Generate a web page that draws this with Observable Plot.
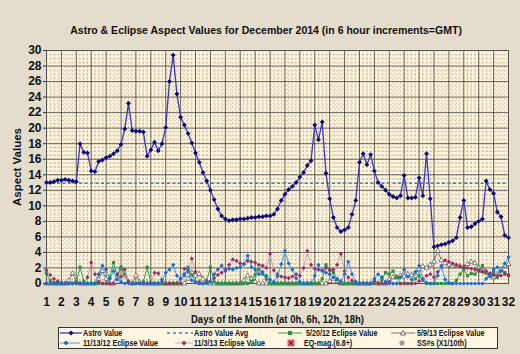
<!DOCTYPE html>
<html><head><meta charset="utf-8">
<script src="https://cdn.jsdelivr.net/npm/d3@7"></script>
<script src="https://cdn.jsdelivr.net/npm/@observablehq/plot@0.6"></script>
<style>
html,body{margin:0;padding:0;}
body{width:520px;height:354px;background:#E4DCCC;position:relative;overflow:hidden;font-family:"Liberation Sans",Arial,sans-serif;}
#title{position:absolute;left:0;top:22px;width:533px;text-align:center;line-height:14px;}
#title span{display:inline-block;font:bold 11.5px "Liberation Sans",Arial,sans-serif;color:#111;transform:scaleX(0.915);transform-origin:center;white-space:nowrap;}
#chart{position:absolute;left:0;top:40px;}
#legend{position:absolute;left:58px;top:327px;width:438px;height:20px;background:#FFF6E2;border:1px solid #333;}
.li{position:absolute;font:bold 8.5px "Liberation Sans",Arial,sans-serif;white-space:nowrap;line-height:8px;height:8px;color:#111;transform:scaleX(0.84);transform-origin:left center;}
.sw{position:absolute;line-height:0;}
</style></head>
<body>
<div id="title"><span></span></div>
<div id="chart"></div>
<div id="legend"></div>
<script>
const chartTitle = "Astro & Eclipse Aspect Values for December 2014 (in 6 hour increments=GMT)";
const xLabel = "Days of the Month (at 0h, 6h, 12h, 18h)";
const yLabel = "Aspect Values";
const dayTicks = [1,2,3,4,5,6,7,8,9,10,11,12,13,14,15,16,17,18,19,20,21,22,23,24,25,26,27,28,29,30,31,32];
const yTicks = [0,2,4,6,8,10,12,14,16,18,20,22,24,26,28,30];
const seriesNames = ["Astro Value","Astro Value Avg","5/20/12 Eclipse Value","5/9/13 Eclipse Value","11/13/12 Eclipse Value","11/3/13 Eclipse Value","EQ-mag.(6.8+)","SS#s (X1/10th)"];

const astroAvg = 12.9;
const astroValues = [13.0,13.0,13.1,13.3,13.3,13.4,13.3,13.2,13.1,18.0,
 16.9,16.8,14.5,14.4,15.7,15.9,16.2,16.4,16.7,17.1,
 17.9,19.9,23.2,19.7,19.6,19.6,19.5,16.4,17.2,18.2,
 17.1,18.0,20.1,26.0,29.4,24.4,21.4,20.4,19.3,18.1,
 16.8,15.6,14.3,13.2,12.0,10.8,9.6,8.7,8.3,8.1,
 8.2,8.2,8.3,8.3,8.4,8.5,8.5,8.6,8.6,8.7,
 8.7,8.9,9.6,10.7,11.5,12.1,12.5,13.0,13.7,14.3,
 15.2,15.8,20.4,18.5,20.8,14.2,10.9,8.5,7.2,6.7,
 6.9,7.2,8.9,10.7,15.6,16.7,15.3,16.6,14.5,13.0,
 12.5,12.0,11.5,11.2,11.0,11.3,13.9,11.0,11.0,11.1,
 13.6,11.3,16.7,10.9,4.7,4.85,5.0,5.1,5.3,5.5,
 5.9,8.5,10.7,7.2,7.3,7.7,8.0,8.3,13.2,12.1,
 11.6,9.2,8.6,6.2,5.9];
const ecl_5_20_12 = [1.3,0.4,0.1,0,0,0,0,0,0.2,2.1,
 0.3,0,0,0,0,0,0,0.8,2.7,1.0,
 2.1,1.2,0.2,0,0,0,0.2,2.1,0.2,0,
 0,0,0,0,0,0,0.6,1.0,2.1,1.1,
 0.2,0,0,0.3,2.1,0.2,0,0,0,0,
 0,0,0,0,0,0.3,1.1,1.8,1.2,0.6,
 0,0,0,0,0,0,0,0,0,0,
 0,0,0,0,0.6,2.4,1.8,1.4,0.6,0,
 0,0,0,0,0,0,0,0,0,0,
 0.5,1.4,1.2,1.6,0.8,0,0,0,0,0.6,
 1.0,0.4,0,0,0,0,0,0,0,0,
 0.4,1.2,1.8,1.0,1.3,1.2,1.8,2.3,1.4,0.9,
 1.5,0.8,1.6,1.4,1.1];
const ecl_5_9_13 = [0,0,0,0,0,0,0.4,1.3,0.3,0,
 0,0,0,0,0.5,1.6,0.6,0,0,0.8,
 2.0,1.0,0.2,0,1.0,0.2,0,0,0,0,
 0,0,0,0,0,0,0,0,0.6,1.4,
 1.0,1.2,0.6,0.3,0,0,0,0,0,0,
 0,0,0,0.4,1.0,0.6,0.2,0,0,0,
 0,0,0,0,0,0,0,0,0,0,
 0,0,0,0,0,0,0.3,0.6,0.3,0,
 0,0,0,0,0,0,0,0,0.3,0,
 0,0,0.5,0.8,0.8,1.0,0.9,1.2,1.1,1.3,
 1.8,2.2,2.0,2.4,2.8,4.2,3.0,2.6,2.4,2.2,
 2.3,2.2,2.1,2.5,2.8,2.6,2.0,1.6,1.4,1.0,
 0.8,1.2,1.8,2.3,2.5];
const ecl_11_13_12 = [0,0,0,0,0,0,0,0,0,0,
 0,0,0,0,1.2,2.3,1.8,0.6,1.6,0.5,
 0.2,0,0,0,0,0,0,0,0,0,
 0,0.3,1.4,1.8,2.4,1.0,0.6,1.2,1.8,0.4,
 0.1,0,0,0,0.2,1.2,1.8,2.3,1.6,1.9,
 1.8,2.0,2.1,2.5,3.6,2.1,1.8,1.2,1.5,1.0,
 0.5,0.2,0.9,2.5,4.2,2.6,1.8,0.7,0.2,0,
 0,0,1.0,2.4,1.6,1.4,1.2,0.8,0.5,0.3,
 1.2,2.8,1.2,0.2,0,0,0,0,0.6,1.2,
 0.8,0.2,0,0,0,0.8,1.8,0.9,0.5,1.5,
 2.3,0.6,0.1,0,0,1.0,2.3,0.5,0.1,0,
 0,0,0,0,0,0,0,0,0.6,1.1,
 1.8,2.1,1.6,2.6,3.4];
const ecl_11_3_13 = [1.7,1.1,0.6,0.3,0.1,0,0,0,0,0,
 0,0.8,2.7,1.2,0.2,0,0,0,0,1.2,
 0.9,1.8,0.3,0,0,0,0,0,0,1.4,
 1.3,0.5,0,0,0,0,0,1.9,1.5,3.2,
 1.5,0.2,0,0.1,0.3,0.7,1.1,1.4,1.8,2.4,
 3.1,2.9,2.6,2.5,2.9,2.8,2.7,2.4,2.3,2.0,
 3.8,1.7,1.2,0.9,0.8,0.7,0.9,1.2,1.0,2.0,
 4.2,2.4,1.9,1.8,1.7,2.0,1.7,1.8,2.4,3.8,
 1.6,0.8,0.4,0.2,0,0,0,0,0.3,0,
 0,0,0.2,0,0,0,0,0,0,0,
 0.3,0.6,1.0,1.2,0.8,1.5,2.1,3.0,2.8,2.6,
 2.4,2.2,2.1,2.0,1.9,1.8,1.6,1.5,1.6,1.3,
 1.1,1.0,1.0,1.2,1.0];

// 6-hour steps: day 1 0h ... day 32 0h
const table = astroValues.map((v, i) => ({
  x: 1 + i / 4, astro: v,
  g: ecl_5_20_12[i], k: ecl_5_9_13[i], b: ecl_11_13_12[i], p: ecl_11_3_13[i]
}));

const minorY = d3.range(0.5, 30, 0.5).filter(v => v % 2 !== 0);
const minorX = d3.range(1.25, 32, 0.25).filter(v => v % 1 !== 0);

const C = {astroLine:"#3838B8", astroDot:"#0B0B78", avg:"#1E8CE6",
  g:"#2FA050", gDot:"#2A9048", k:"#555555", b:"#3A9CF0", bDot:"#1868D8", p:"#D59AB9", pDot:"#9A2A68"};

const chart = Plot.plot({
  width: 520, height: 286,
  marginTop: 10, marginBottom: 43, marginLeft: 46, marginRight: 12,
  x: {domain: [1, 32]},
  y: {domain: [0, 30]},
  style: {background: "transparent", fontFamily: '"Liberation Sans",Arial,sans-serif', overflow: "visible", color: "#111"},
  marks: [
    Plot.frame({fill: "#FFF4DA", stroke: null}),
    Plot.ruleY(minorY, {stroke: "#555", strokeDasharray: "2,2", strokeWidth: 0.7, strokeOpacity: 0.42}),
    Plot.ruleX(minorX, {stroke: "#555", strokeDasharray: "2,2", strokeWidth: 0.7, strokeOpacity: 0.42}),
    Plot.ruleY(yTicks, {stroke: "#2a2a2a", strokeWidth: 0.9, strokeOpacity: 0.8}),
    Plot.ruleX(dayTicks, {stroke: "#2a2a2a", strokeWidth: 0.9, strokeOpacity: 0.8}),
    Plot.frame({stroke: "#555", strokeWidth: 1}),
    Plot.ruleY([astroAvg], {stroke: C.avg, strokeDasharray: "3,2.5", strokeWidth: 1.6}),
    Plot.line(table, {x: "x", y: "k", stroke: C.k, strokeWidth: 0.8}),
    Plot.dot(table, {x: "x", y: "k", symbol: "triangle", r: 1.8, fill: "#fff", stroke: "#333", strokeWidth: 0.6}),
    Plot.line(table, {x: "x", y: "g", stroke: C.g, strokeWidth: 1}),
    Plot.dot(table, {x: "x", y: "g", symbol: "square", r: 1.8, fill: C.gDot}),
    Plot.line(table, {x: "x", y: "p", stroke: C.p, strokeWidth: 1}),
    Plot.dot(table, {x: "x", y: "p", symbol: "diamond2", r: 1.9, fill: C.pDot}),
    Plot.line(table, {x: "x", y: "b", stroke: C.b, strokeWidth: 1}),
    Plot.dot(table, {x: "x", y: "b", symbol: "diamond2", r: 1.9, fill: C.bDot}),
    Plot.line(table, {x: "x", y: "astro", stroke: C.astroLine, strokeWidth: 1.3}),
    Plot.dot(table, {x: "x", y: "astro", symbol: "diamond2", r: 2.2, fill: C.astroDot}),
    Plot.axisY({ticks: yTicks, tickSize: 3, tickPadding: 2, fontSize: 12, fontWeight: "bold", label: null, stroke: "#333"}),
    Plot.axisX({ticks: dayTicks, tickSize: 0, tickPadding: 14, fontSize: 12, fontWeight: "bold", label: null, tickFormat: d => d}),
    Plot.text([yLabel], {text: d => d, frameAnchor: "left", textAnchor: "middle", lineAnchor: "middle", dx: -29, rotate: -90, fontSize: 11.5, fontWeight: "bold", fill: "#111"}),
    Plot.text([xLabel], {text: d => d, frameAnchor: "bottom", textAnchor: "middle", lineAnchor: "middle", dy: 36, fontSize: 11.5, fontWeight: "bold", fill: "#111"})
  ]
});
document.getElementById("chart").appendChild(chart);
// condense the x axis title to the reference's width
chart.querySelectorAll("text").forEach(t => {
  if (t.textContent === xLabel) { t.setAttribute("textLength", 173); t.setAttribute("lengthAdjust", "spacingAndGlyphs"); }
});
document.querySelector("#title span").textContent = chartTitle;

// legend
const lg = document.getElementById("legend");
function sw(left, top, w, inner) {
  const s = document.createElement("div");
  s.className = "sw";
  s.style.left = left + "px"; s.style.top = top + "px";
  s.innerHTML = `<svg width="${w}" height="8" viewBox="0 0 ${w} 8">${inner}</svg>`;
  lg.appendChild(s);
}
function lab(left, top, text) {
  const d = document.createElement("div");
  d.className = "li"; d.style.left = left + "px"; d.style.top = top + "px";
  d.textContent = text; lg.appendChild(d);
}
const r1 = 1, r2 = 10.5;
sw(1, r1, 22, `<line x1="0" y1="4" x2="22" y2="4" stroke="${C.astroLine}" stroke-width="1.3"/><path d="M11 1.5L13.5 4L11 6.5L8.5 4Z" fill="${C.astroDot}"/>`);
lab(24, r1, seriesNames[0]);
sw(108, r1, 26, `<line x1="0" y1="4" x2="26" y2="4" stroke="${C.avg}" stroke-width="1.6" stroke-dasharray="3,3"/>`);
lab(135, r1, seriesNames[1]);
sw(219, r1, 24, `<line x1="0" y1="4" x2="24" y2="4" stroke="${C.g}" stroke-width="1"/><rect x="10" y="2" width="4" height="4" fill="${C.gDot}"/>`);
lab(247, r1, seriesNames[2]);
sw(332, r1, 24, `<line x1="0" y1="4" x2="24" y2="4" stroke="${C.k}" stroke-width="0.8"/><path d="M12 1.5L14.5 6L9.5 6Z" fill="#fff" stroke="#333" stroke-width="0.7"/>`);
lab(358, r1, seriesNames[3]);
sw(1, r2, 20, `<line x1="0" y1="4" x2="20" y2="4" stroke="${C.b}" stroke-width="1"/><path d="M6 1.5L8.5 4L6 6.5L3.5 4Z" fill="${C.bDot}"/>`);
lab(24, r2, seriesNames[4]);
sw(116, r2, 18, `<line x1="0" y1="4" x2="18" y2="4" stroke="${C.p}" stroke-width="1"/><path d="M9 1.5L11.5 4L9 6.5L6.5 4Z" fill="${C.pDot}"/>`);
lab(135, r2, seriesNames[5]);
sw(228, r2, 8, `<rect x="0.5" y="0.5" width="7" height="7" fill="#E06070"/><path d="M2 2L6 6M6 2L2 6" stroke="#600" stroke-width="0.9"/>`);
lab(245, r2, seriesNames[6]);
sw(339, r2, 8, `<circle cx="4" cy="4" r="2.6" fill="#999"/>`);
lab(358, r2, seriesNames[7]);
</script>
</body></html>
